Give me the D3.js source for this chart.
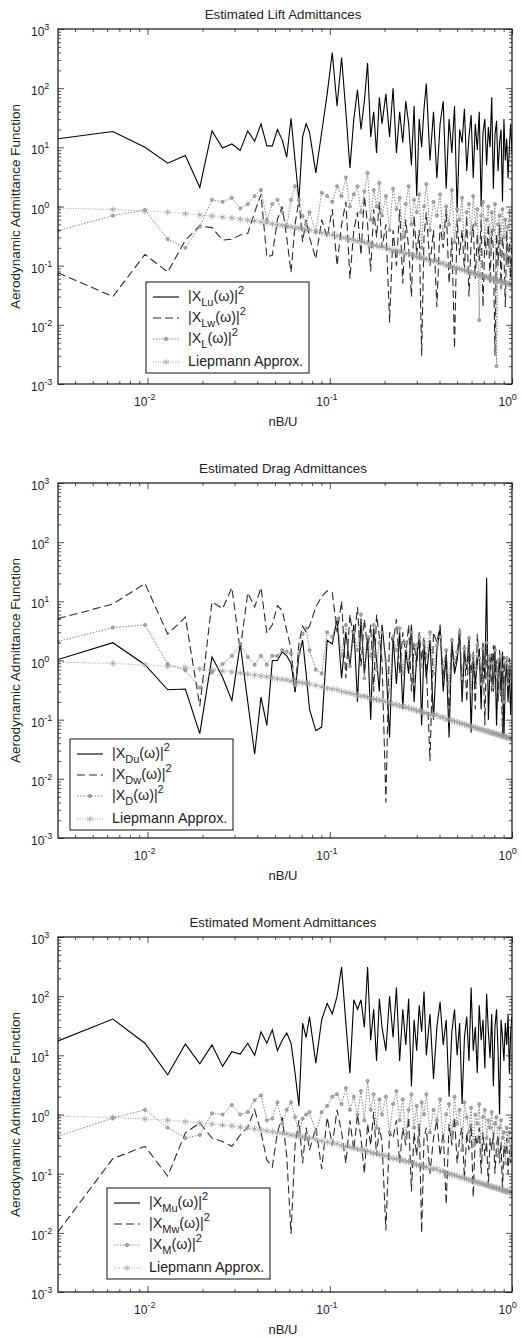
<!DOCTYPE html>
<html>
<head>
<meta charset="utf-8">
<script src="https://cdn.jsdelivr.net/npm/d3@7"></script>
<style>
  body { margin: 0; background: #fff; }
  svg { display: block; font-family: "Liberation Sans", Arial, sans-serif; }
</style>
</head>
<body>
<svg id="chart" width="522" height="1338"></svg>
<script>
// FFT bin spacing (nB/U) and the harmonics kept for plotting
var freqStep = 0.003225;
var harmonic = [1, 2, 3, 4, 5, 6, 7, 8, 9, 10, 11, 12, 13, 14, 15, 16, 17, 18, 19, 20, 21, 22, 23, 24,
  26, 28, 30, 32, 34, 36, 38, 40, 42, 44, 46, 48, 50, 52, 54, 56, 58, 60,
  63, 66, 69, 72, 75, 78, 81, 84, 87, 90, 93, 96, 99, 102,
  105, 110, 115, 120, 125, 130, 135, 140, 145, 150, 155, 160, 165, 170, 175, 180, 185, 190, 195, 200,
  205, 210, 215, 220, 225, 230, 235, 240, 245, 250, 255, 260, 265, 270, 275, 280, 285, 290, 295, 300, 305, 310];

// Liepmann approximation (same curve in all three panels)
var liepmann = [0.94, 0.89, 0.84, 0.80, 0.76, 0.72, 0.69, 0.66, 0.64, 0.61, 0.59, 0.57, 0.55, 0.53, 0.51, 0.49, 0.48, 0.47, 0.45, 0.44, 0.43, 0.42, 0.41, 0.40,
  0.38, 0.36, 0.34, 0.33, 0.32, 0.30, 0.29, 0.28, 0.27, 0.26, 0.25, 0.25, 0.24, 0.23, 0.22, 0.22, 0.21, 0.21,
  0.20, 0.19, 0.18, 0.18, 0.17, 0.17, 0.16, 0.16, 0.15, 0.15, 0.14, 0.14, 0.14, 0.13,
  0.13, 0.12, 0.12, 0.12, 0.11, 0.11, 0.10, 0.10, 0.097, 0.094, 0.091, 0.088, 0.086, 0.083, 0.081, 0.079, 0.077, 0.075, 0.073, 0.071,
  0.070, 0.068, 0.067, 0.065, 0.064, 0.063, 0.061, 0.060, 0.059, 0.058, 0.057, 0.056, 0.055, 0.054, 0.053, 0.052, 0.051, 0.050, 0.050, 0.049, 0.048, 0.047];

// Lift
var liftU = [14, 18.5, 10, 5.4, 7.3, 2.1, 19, 9.7, 11.4, 8.9, 19, 12.6, 25, 10.6, 10.6, 20, 13.4, 6.8, 31, 6, 1.3, 15, 25, 18,
  3.7, 18, 80, 400, 50, 330, 40, 4.5, 30, 94, 20, 60, 265, 15, 40, 8, 70, 25,
  80, 15, 100, 8, 40, 12, 60, 25, 5, 50, 1.5, 30, 10, 45,
  120, 6, 40, 3, 25, 60, 2, 30, 8, 50, 0.8, 20, 12, 45, 4, 15, 35, 3, 25, 9,
  40, 1, 18, 30, 5, 22, 10, 70, 2, 16, 28, 4, 12, 20, 1.2, 30, 6, 14, 3, 10, 25, 8];
var liftW = [0.076, 0.03, 0.155, 0.078, 0.27, 0.47, 0.44, 0.27, 0.28, 0.33, 0.35, 0.8, 1.6, 0.14, 0.15, 0.6, 1.0, 0.3, 0.077, 0.5, 1.3, 0.25, 0.6, 0.3,
  0.13, 0.6, 0.3, 0.9, 0.1, 0.5, 1.2, 0.06, 0.4, 0.8, 0.15, 1.5, 0.5, 0.08, 0.9, 0.3, 1.2, 0.2,
  0.5, 0.011, 0.4, 0.1, 0.9, 0.05, 0.6, 0.2, 0.03, 0.7, 0.15, 0.4, 0.003, 0.3,
  0.8, 0.1, 0.4, 0.02, 0.5, 0.2, 0.9, 0.05, 0.3, 0.004, 0.6, 0.15, 0.4, 0.08, 0.7, 0.03, 0.25, 0.5, 0.06, 0.35,
  0.12, 0.6, 0.02, 0.3, 0.15, 0.5, 0.05, 0.4, 0.2, 0.003, 0.35, 0.1, 0.5, 0.04, 0.3, 0.15, 0.02, 0.4, 0.1, 0.25, 0.06, 0.3];
var liftTotal = [0.39, 0.7, 0.87, 0.28, 0.2, 0.46, 1.3, 1.2, 1.4, 0.93, 1.1, 1.5, 1.9, 0.6, 1.1, 1.3, 0.8, 0.46, 1.3, 2.2, 1.3, 0.69, 0.5, 0.8,
  0.37, 1.7, 1.5, 1.2, 2.2, 1.5, 3.1, 1.0, 1.6, 2.2, 0.8, 1.8, 3.7, 0.6, 1.9, 1.0, 2.5, 0.7,
  1.5, 0.4, 2.0, 0.9, 1.4, 0.3, 1.1, 2.2, 0.5, 1.3, 0.8, 1.6, 0.2, 1.0,
  2.4, 0.4, 1.2, 0.7, 1.6, 0.3, 1.0, 0.5, 1.9, 0.25, 0.9, 0.6, 1.4, 0.2, 0.8, 1.1, 0.35, 1.5, 0.5, 0.9,
  0.012, 0.7, 1.2, 0.3, 0.6, 1.0, 0.2, 0.8, 0.4, 1.1, 0.002, 0.5, 0.7, 0.25, 0.9, 0.3, 0.6, 0.15, 0.45, 0.8, 0.2, 0.35];

// Drag
var dragU = [1.04, 2.0, 0.85, 0.32, 0.33, 0.058, 1.15, 0.52, 0.21, 1.9, 0.2, 0.026, 0.24, 0.08, 1.0, 1.0, 1.4, 1.2, 0.9, 0.29, 1.2, 2.2, 0.6, 0.15,
  0.065, 0.075, 2.2, 1.9, 5, 0.5, 3, 0.8, 4, 0.2, 5, 0.6, 2.5, 0.1, 3.5, 1.0, 0.3, 4,
  0.9, 0.05, 2.5, 0.4, 3, 0.15, 1.5, 0.6, 4, 0.2, 1.2, 2.5, 0.08, 1.8,
  0.5, 2.2, 0.1, 1.5, 3.5, 0.3, 1.2, 0.05, 2, 0.6, 1.0, 3, 0.2, 1.4, 0.7, 2.5, 0.06, 1.1, 0.4, 0.9,
  1.6, 0.15, 2.0, 0.5, 25, 0.1, 0.8, 1.3, 0.3, 1.8, 0.08, 0.6, 1.0, 0.25, 1.4, 0.05, 0.5, 0.9, 0.2, 0.7, 0.12, 0.6];
var dragW = [5.1, 9, 20, 2.8, 5.4, 0.17, 9.8, 7.5, 17, 1.5, 14, 8, 17, 2.9, 4, 8.5, 7, 3.2, 1.6, 0.3, 2, 3.8, 3, 3.8,
  8, 12, 15, 14, 3, 10, 0.5, 6, 2, 8, 0.8, 5, 1.5, 4, 0.3, 6, 2.5, 1,
  0.004, 3, 2, 5, 0.6, 3, 1.2, 4, 0.3, 2, 0.8, 3, 1, 2.5,
  0.8, 0.02, 3, 2, 4, 0.5, 1.5, 0.1, 2.5, 0.7, 1.2, 3.5, 0.3, 1.8, 0.2, 2.2, 0.6, 1.4, 0.15, 2.8,
  1.0, 0.4, 1.6, 0.08, 2, 0.7, 1.2, 0.3, 1.8, 0.5, 1.0, 0.2, 1.5, 0.6, 0.05, 1.2, 0.4, 0.9, 0.25, 1.1, 0.5, 0.7];
var dragTotal = [2.1, 3.6, 4.0, 0.87, 0.68, 0.35, 0.63, 0.87, 1.2, 1.9, 1.15, 0.85, 1.2, 0.85, 1.2, 1.2, 1.5, 1.4, 1.3, 0.38, 1.3, 2.8, 3.5, 1.5,
  0.7, 0.6, 3, 2.5, 5, 1.2, 4, 0.8, 3, 1.5, 6, 0.5, 2.5, 1.2, 4, 0.7, 2, 3,
  1.0, 0.3, 2.5, 1.5, 3.5, 0.6, 2, 1.0, 3, 0.4, 1.8, 2.5, 0.8, 2,
  1.2, 3, 0.6, 1.8, 2.5, 0.8, 1.5, 0.4, 2.2, 1.0, 1.4, 3, 0.5, 1.6, 0.9, 2.4, 0.3, 1.2, 0.7, 1.8,
  1.1, 0.4, 1.6, 0.8, 2.0, 0.5, 1.2, 0.9, 0.35, 1.5, 0.6, 1.0, 0.3, 1.2, 0.7, 0.2, 0.9, 1.1, 0.4, 0.8, 0.5, 0.6];

// Moment
var momentU = [17.5, 41, 16, 4.7, 15.5, 7.2, 15, 6.5, 11.5, 10.5, 16, 10, 25, 16, 27, 12, 18, 24, 16, 5, 1.4, 35, 20, 45,
  7.4, 40, 75, 50, 100, 310, 35, 5, 87, 60, 87, 30, 310, 18, 60, 8, 90, 30,
  12, 100, 20, 140, 8, 60, 15, 90, 3, 40, 12, 70, 25, 120,
  10, 50, 4, 30, 80, 15, 40, 2, 25, 60, 10, 35, 1.5, 20, 45, 8, 140, 12, 30, 5,
  70, 18, 40, 6, 110, 25, 9, 50, 3, 30, 60, 12, 1, 40, 20, 8, 35, 15, 50, 5, 25, 45];
var momentW = [0.0104, 0.18, 0.29, 0.091, 0.49, 0.72, 0.4, 0.35, 0.29, 0.45, 0.62, 1.2, 0.5, 0.17, 0.13, 0.5, 0.9, 0.2, 0.0096, 0.3, 0.8, 0.15, 0.6, 0.25,
  0.6, 0.12, 0.9, 0.3, 1.2, 0.5, 0.15, 0.8, 0.25, 1.0, 0.4, 0.1, 0.7, 0.3, 1.1, 0.2, 0.6, 0.35,
  0.011, 0.5, 0.4, 0.8, 0.15, 0.6, 0.3, 0.9, 0.05, 0.5, 0.2, 0.7, 0.01, 0.4,
  0.6, 0.1, 0.4, 0.8, 0.2, 0.5, 0.03, 0.7, 0.3, 0.9, 0.15, 0.4, 0.6, 0.08, 0.5, 0.25, 0.7, 0.04, 0.45, 0.3,
  0.6, 0.1, 0.5, 0.2, 0.35, 0.06, 0.4, 0.25, 0.5, 0.1, 0.3, 0.45, 0.15, 0.35, 0.05, 0.3, 0.2, 0.4, 0.1, 0.25, 0.15, 0.3];
var momentTotal = [0.43, 0.87, 1.2, 0.6, 0.4, 0.45, 1.05, 1.0, 1.45, 1.0, 1.1, 1.75, 2.1, 0.8, 0.85, 1.6, 0.7, 1.2, 1.6, 0.9, 0.48, 0.85, 1.0, 1.1,
  0.5, 1.1, 1.4, 2.0, 2.2, 1.5, 2.8, 1.2, 2.0, 1.0, 2.5, 0.8, 3.7, 1.2, 2.2, 0.6, 1.8, 1.0,
  2.0, 0.5, 1.5, 2.5, 0.8, 1.8, 0.4, 1.2, 2.2, 0.6, 1.4, 0.3, 1.6, 1.0,
  2.2, 0.5, 1.2, 0.8, 1.8, 0.35, 1.0, 1.5, 0.4, 2.0, 0.7, 1.2, 0.25, 1.6, 0.9, 0.5, 1.3, 0.3, 1.0, 0.7,
  1.5, 0.2, 0.9, 1.2, 0.4, 0.8, 0.6, 1.1, 0.3, 0.7, 0.9, 0.2, 0.6, 0.8, 0.4, 0.5, 0.15, 0.6, 0.35, 0.5, 0.25, 0.4];

var panelTitles = ["Estimated Lift Admittances", "Estimated Drag Admittances", "Estimated Moment Admittances"];
var legendSubs = [["Lu", "Lw", "L"], ["Du", "Dw", "D"], ["Mu", "Mw", "M"]];
var panelTops = [29, 483, 937];
var legendPos = [[146, 282], [70, 739], [107, 1188]];
var xTickExp = [-2, -1, 0];
var yTickExp = [-3, -2, -1, 0, 1, 2, 3];

var L = 58, W = 454, H = 355;
var svg = d3.select("#chart");

var x = d3.scaleLog().domain([freqStep, 1]).range([0, W]);
var y = d3.scaleLog().domain([1e-3, 1e3]).range([H, 0]);

function pts(values) {
  return harmonic.map(function(k, i) { return [k * freqStep, values[i]]; });
}

var line = d3.line()
  .x(function(d) { return x(d[0]); })
  .y(function(d) { return y(d[1]); });

// series styles: u (solid), w (dashed), total (dotted + circles), Liepmann (dotted + stars)
var styles = [
  { stroke: "#000", width: 1.1, dash: null, marker: null },
  { stroke: "#2a2a2a", width: 1.1, dash: "8,4", marker: null },
  { stroke: "#777", width: 0.9, dash: "1.5,1.5", marker: "circle" },
  { stroke: "#9a9a9a", width: 0.9, dash: "1,1.5", marker: "star" }
];

var starPath = d3.symbol().type(d3.symbolAsterisk).size(30)();
var circlePath = d3.symbol().type(d3.symbolCircle).size(8)();

function drawMarkers(g, data, st) {
  if (!st.marker) return;
  g.selectAll(null).data(data).enter().append("path")
    .attr("transform", function(d) { return "translate(" + x(d[0]) + "," + y(d[1]) + ")"; })
    .attr("d", st.marker === "star" ? starPath : circlePath)
    .attr("fill", st.marker === "star" ? "none" : "#aaa")
    .attr("stroke", st.stroke)
    .attr("stroke-width", st.marker === "star" ? 0.8 : 0.6);
}

function powerLabel(sel, exp, size) {
  sel.append("tspan").text("10");
  sel.append("tspan").attr("dy", -6).attr("font-size", size - 3).text(exp);
}

function drawPanel(p, seriesList) {
  var top = panelTops[p];
  var g = svg.append("g").attr("transform", "translate(" + L + "," + top + ")");

  g.append("clipPath").attr("id", "clip" + p)
    .append("rect").attr("width", W).attr("height", H);

  var plot = g.append("g").attr("clip-path", "url(#clip" + p + ")");
  seriesList.forEach(function(vals, i) {
    var st = styles[i];
    var data = pts(vals);
    plot.append("path")
      .attr("d", line(data))
      .attr("fill", "none")
      .attr("stroke", st.stroke)
      .attr("stroke-width", st.width)
      .attr("stroke-dasharray", st.dash);
    drawMarkers(plot, data, st);
  });

  // ticks inside on all four sides
  var xMajor = xTickExp.map(function(e) { return Math.pow(10, e); });
  var xMinor = [];
  [-3, -2, -1].forEach(function(e) {
    d3.range(2, 10).forEach(function(m) {
      var v = m * Math.pow(10, e);
      if (v > freqStep && v < 1) xMinor.push(v);
    });
  });
  var yMajor = yTickExp.map(function(e) { return Math.pow(10, e); });
  var yMinor = [];
  [-3, -2, -1, 0, 1, 2].forEach(function(e) {
    d3.range(2, 10).forEach(function(m) { yMinor.push(m * Math.pow(10, e)); });
  });

  function tickSet(axis, vals, size, tr) {
    var a = g.append("g").attr("transform", tr)
      .call(axis.tickValues(vals).tickSize(-size).tickFormat(""));
    a.select(".domain").remove();
    a.selectAll("line").attr("stroke", "#222").attr("stroke-width", 0.8);
  }
  tickSet(d3.axisBottom(x), xMajor, 6, "translate(0," + H + ")");
  tickSet(d3.axisBottom(x), xMinor, 3, "translate(0," + H + ")");
  tickSet(d3.axisTop(x), xMajor, 6, "translate(0,0)");
  tickSet(d3.axisTop(x), xMinor, 3, "translate(0,0)");
  tickSet(d3.axisLeft(y), yMajor, 6, "translate(0,0)");
  tickSet(d3.axisLeft(y), yMinor, 3, "translate(0,0)");
  tickSet(d3.axisRight(y), yMajor, 6, "translate(" + W + ",0)");
  tickSet(d3.axisRight(y), yMinor, 3, "translate(" + W + ",0)");

  g.append("rect").attr("width", W).attr("height", H)
    .attr("fill", "none").attr("stroke", "#111").attr("stroke-width", 1.2);

  // tick labels
  xTickExp.forEach(function(e) {
    var t = g.append("text")
      .attr("x", x(Math.pow(10, e))).attr("y", H + 22)
      .attr("font-size", 12).attr("fill", "#222")
      .attr("text-anchor", "start").attr("dx", -13.5);
    powerLabel(t, e, 12);
  });
  yTickExp.forEach(function(e) {
    var t = g.append("text")
      .attr("x", -27).attr("y", y(Math.pow(10, e)) + 7)
      .attr("font-size", 12).attr("fill", "#222");
    powerLabel(t, e, 12);
  });

  g.append("text").attr("x", W / 2 - 2).attr("y", -10)
    .attr("text-anchor", "middle").attr("font-size", 13.3).attr("fill", "#222")
    .text(panelTitles[p]);
  g.append("text").attr("x", W / 2 - 2).attr("y", H + 42)
    .attr("text-anchor", "middle").attr("font-size", 13).attr("fill", "#222")
    .text("nB/U");
  g.append("text")
    .attr("transform", "translate(" + (-38) + "," + (H / 2) + ") rotate(-90)")
    .attr("text-anchor", "middle").attr("font-size", 13.5).attr("fill", "#222")
    .text("Aerodynamic Admittance Function");

  // legend
  var lx = legendPos[p][0] - L, ly = legendPos[p][1] - top;
  var lg = g.append("g").attr("transform", "translate(" + lx + "," + ly + ")");
  lg.append("rect").attr("width", 163).attr("height", 91)
    .attr("fill", "#fff").attr("stroke", "#111").attr("stroke-width", 1);
  var rowY = [15, 36, 57, 80];
  rowY.forEach(function(ry, i) {
    var st = styles[i];
    lg.append("line").attr("x1", 7).attr("x2", 33).attr("y1", ry).attr("y2", ry)
      .attr("stroke", st.stroke).attr("stroke-width", st.width)
      .attr("stroke-dasharray", st.dash);
    if (st.marker) {
      lg.append("path").attr("transform", "translate(20," + ry + ")")
        .attr("d", st.marker === "star" ? starPath : circlePath)
        .attr("fill", st.marker === "star" ? "none" : "#aaa")
        .attr("stroke", st.stroke).attr("stroke-width", 0.7);
    }
    var t = lg.append("text").attr("x", 42).attr("y", ry + 4)
      .attr("font-size", 14.3).attr("fill", "#222");
    if (i < 3) {
      t.append("tspan").text("|X");
      t.append("tspan").attr("dy", 5).attr("font-size", 11).text(legendSubs[p][i]);
      t.append("tspan").attr("dy", -5).text("(ω)|");
      t.append("tspan").attr("dy", -7).attr("font-size", 11).text("2");
    } else {
      t.text("Liepmann Approx.");
    }
  });
}

drawPanel(0, [liftU, liftW, liftTotal, liepmann]);
drawPanel(1, [dragU, dragW, dragTotal, liepmann]);
drawPanel(2, [momentU, momentW, momentTotal, liepmann]);
</script>
</body>
</html>
